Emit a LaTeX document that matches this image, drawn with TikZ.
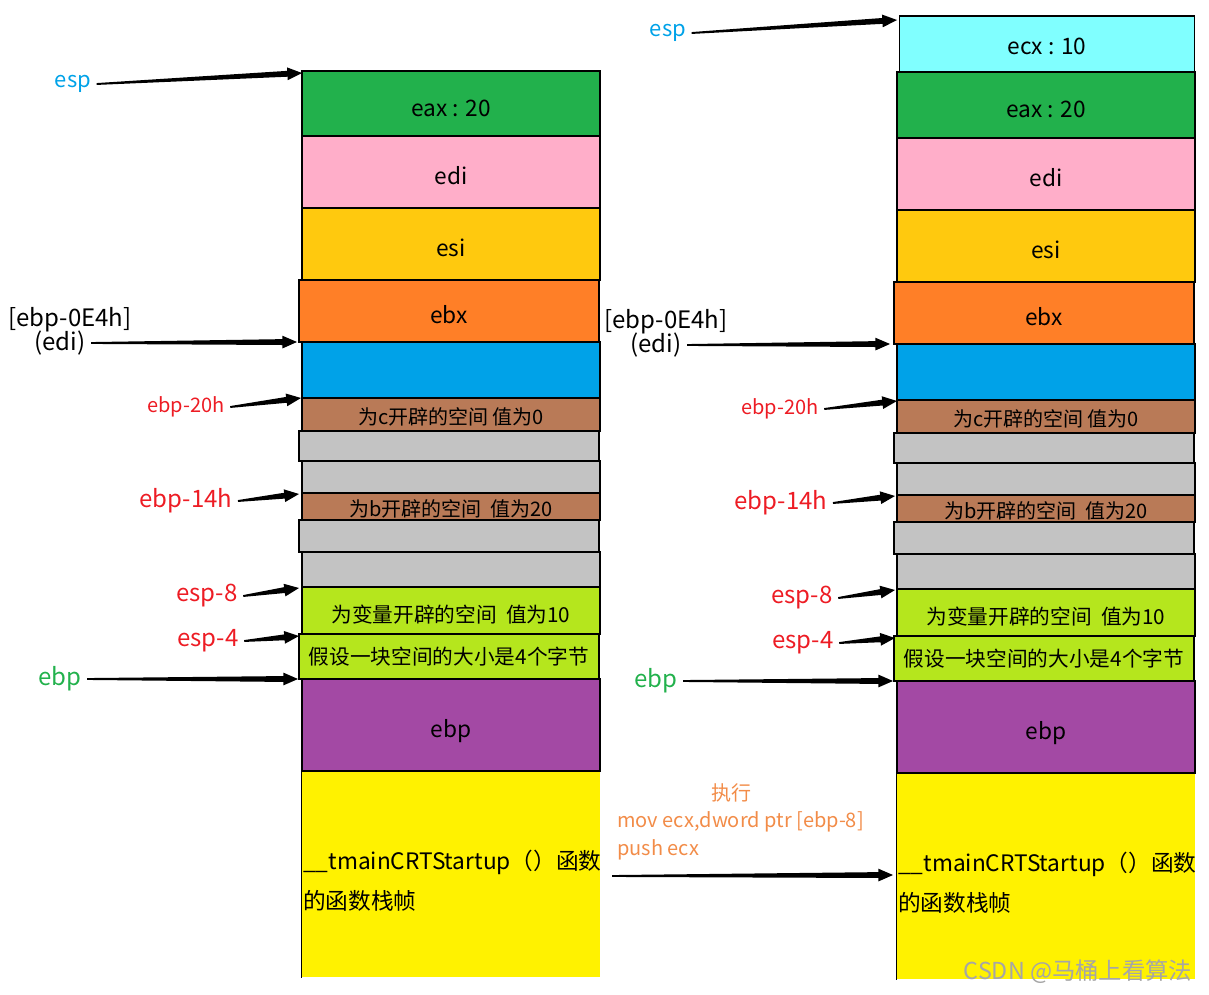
\documentclass[tikz,border=0pt]{standalone}
\usepackage{fontspec}
\setmainfont{Noto Sans CJK SC}
\usetikzlibrary{calc}
\definecolor{cGreen}{HTML}{22B14C}
\definecolor{cPink}{HTML}{FFAEC9}
\definecolor{cGold}{HTML}{FFC90E}
\definecolor{cOrange}{HTML}{FF7F27}
\definecolor{cBlue}{HTML}{00A2E8}
\definecolor{cBrown}{HTML}{B97A57}
\definecolor{cGray}{HTML}{C3C3C3}
\definecolor{cLime}{HTML}{B5E61D}
\definecolor{cPurple}{HTML}{A349A4}
\definecolor{cYellow}{HTML}{FFF200}
\definecolor{cCyan}{HTML}{80FFFF}
\definecolor{cRed}{HTML}{ED1C24}
\definecolor{cEsp}{HTML}{00A2E8}
\definecolor{cEbp}{HTML}{22B14C}
\definecolor{cNote}{HTML}{F28C48}
\tikzset{
  blk/.style={draw=black,line width=1.1pt,minimum width=223.5pt,inner sep=0pt,
    font=\fontsize{17}{20}\selectfont,text height=19pt,text depth=0pt},
  small/.style={font=\fontsize{15}{18}\selectfont,text height=15.5pt},
  mid/.style={font=\fontsize{15.5}{18}\selectfont,text height=18.5pt},
  lbl/.style={inner sep=4pt,font=\fontsize{18}{21}\selectfont},
  lblsm/.style={inner sep=4pt,font=\fontsize{15}{18}\selectfont},
  edge/.style={draw=black,line width=1.1pt},
  taper/.style={to path={
    ($(\tikztostart)!0.7pt!90:(\tikztotarget)$) --
    ($(\tikztotarget)!11pt!(\tikztostart)!2.2pt!-90:(\tikztostart)$) --
    ($(\tikztotarget)!11pt!(\tikztostart)!4.8pt!-90:(\tikztostart)$) --
    (\tikztotarget) --
    ($(\tikztotarget)!11pt!(\tikztostart)!4.8pt!90:(\tikztostart)$) --
    ($(\tikztotarget)!11pt!(\tikztostart)!2.2pt!90:(\tikztostart)$) --
    ($(\tikztostart)!0.7pt!-90:(\tikztotarget)$) -- cycle}},
  note/.style={text=cNote,inner sep=0pt,font=\fontsize{15}{18}\selectfont}
}
\newcommand\stk[6]{\node[blk,#5,minimum height={(#4-#3)*0.75pt}] (#1) at ({#2+149},{(#3+#4)/2}) {#6};}
\begin{document}
\begin{tikzpicture}[x=0.75pt,y=-0.75pt]
\useasboundingbox (0,0) rectangle (1209,995);
% ---------- left stack ----------
\stk{L15}{302}{771}{977}{fill=cYellow,draw=none}{}
\draw[edge] (L15.north west) -- (L15.south west);
\draw[edge] (L15.north west) -- (L15.north east);
\stk{L1}{302}{71}{136}{fill=cGreen}{eax : 20}
\stk{L2}{302}{136}{208}{fill=cPink}{edi}
\stk{L3}{302}{208}{280}{fill=cGold}{esi}
\stk{L4}{300}{280}{342}{fill=cOrange,minimum width=225pt}{ebx}
\stk{L5}{302}{342}{398}{fill=cBlue}{}
\stk{L6}{302}{398}{431}{fill=cBrown,small}{为c开辟的空间 值为0}
\stk{L7}{300}{431}{461}{fill=cGray,minimum width=225pt}{}
\stk{L8}{302}{461}{493}{fill=cGray}{}
\stk{L9}{302}{493}{520}{fill=cBrown,small}{为b开辟的空间~~值为20}
\stk{L10}{300}{520}{552}{fill=cGray,minimum width=225pt}{}
\stk{L11}{302}{552}{587}{fill=cGray}{}
\stk{L12}{302}{587}{634}{fill=cLime,mid}{为变量开辟的空间~~值为10}
\stk{L13}{300}{634}{679}{fill=cLime,mid,text height=11.5pt,minimum width=225pt}{假设一块空间的大小是4个字节}
\stk{L14}{302}{679}{771}{fill=cPurple}{ebp}
\node[anchor=west,align=left,inner sep=0pt,font=\fontsize{17}{30}\selectfont] (Ltm) at (303,881)
  {\_\_tmainCRTStartup（）函数\\的函数栈帧};
% left labels
\node[lbl,text=cEsp,font=\fontsize{16.5}{20}\selectfont] (lesp) at (73,84) {esp};
\node[lbl] (lebpa) at (70,320) {[ebp-0E4h]};
\node[lbl] (ledi) at (60,343) {(edi)};
\node[lblsm,text=cRed] (l20) at (186,407) {ebp-20h};
\node[lbl,text=cRed] (l14) at (186,501) {ebp-14h};
\node[lbl,text=cRed] (l8) at (207,596) {esp-8};
\node[lbl,text=cRed] (l4) at (208,641) {esp-4};
\node[lbl,text=cEbp] (lebp) at (60,679) {ebp};
\coordinate (hLesp) at (302,73);
\coordinate (hLedi) at (297,342);
\coordinate (hL20) at (301,398);
\coordinate (hL14) at (299,494);
\coordinate (hL8) at (299,588);
\coordinate (hL4) at (299,636);
\coordinate (hLebp) at (298,679);
\fill (lesp.east) to[taper] (hLesp);
\fill (ledi.east) to[taper] (hLedi);
\fill (l20.east) to[taper] (hL20);
\fill (l14.east) to[taper] (hL14);
\fill (l8.east) to[taper] (hL8);
\fill (l4.east) to[taper] (hL4);
\fill (lebp.east) to[taper] (hLebp);
% ---------- right stack ----------
\stk{R15}{897}{773}{979}{fill=cYellow,draw=none}{}
\draw[edge] (R15.north west) -- (R15.south west);
\draw[edge] (R15.north west) -- (R15.north east);
\stk{R0}{898}{16}{72}{fill=cCyan,text height=15.5pt,minimum width=221.25pt}{ecx : 10}
\stk{R1}{897}{72}{138}{fill=cGreen}{eax : 20}
\stk{R2}{897}{138}{210}{fill=cPink}{edi}
\stk{R3}{897}{210}{282}{fill=cGold}{esi}
\stk{R4}{895}{282}{344}{fill=cOrange,minimum width=225pt}{ebx}
\stk{R5}{897}{344}{400}{fill=cBlue}{}
\stk{R6}{897}{400}{433}{fill=cBrown,small}{为c开辟的空间 值为0}
\stk{R7}{895}{433}{463}{fill=cGray,minimum width=225pt}{}
\stk{R8}{897}{463}{495}{fill=cGray}{}
\stk{R9}{897}{495}{522}{fill=cBrown,small}{为b开辟的空间~~值为20}
\stk{R10}{895}{522}{554}{fill=cGray,minimum width=225pt}{}
\stk{R11}{897}{554}{589}{fill=cGray}{}
\stk{R12}{897}{589}{636}{fill=cLime,mid}{为变量开辟的空间~~值为10}
\stk{R13}{895}{636}{681}{fill=cLime,mid,text height=11.5pt,minimum width=225pt}{假设一块空间的大小是4个字节}
\stk{R14}{897}{681}{773}{fill=cPurple}{ebp}
\node[anchor=west,align=left,inner sep=0pt,font=\fontsize{17}{30}\selectfont] (Rtm) at (898,883)
  {\_\_tmainCRTStartup（）函数\\的函数栈帧};
% right labels
\node[lbl,text=cEsp,font=\fontsize{16.5}{20}\selectfont] (resp) at (668,33) {esp};
\node[lbl] (rebpa) at (666,322) {[ebp-0E4h]};
\node[lbl] (redi) at (656,345) {(edi)};
\node[lblsm,text=cRed] (r20) at (780,409) {ebp-20h};
\node[lbl,text=cRed] (r14) at (781,503) {ebp-14h};
\node[lbl,text=cRed] (r8) at (802,598) {esp-8};
\node[lbl,text=cRed] (r4) at (803,643) {esp-4};
\node[lbl,text=cEbp] (rebp) at (656,681) {ebp};
\coordinate (hResp) at (897,20);
\coordinate (hRedi) at (890,344);
\coordinate (hR20) at (897,401);
\coordinate (hR14) at (895,496);
\coordinate (hR8) at (895,590);
\coordinate (hR4) at (895,638);
\coordinate (hRebp) at (893,681);
\fill (resp.east) to[taper] (hResp);
\fill (redi.east) to[taper] (hRedi);
\fill (r20.east) to[taper] (hR20);
\fill (r14.east) to[taper] (hR14);
\fill (r8.east) to[taper] (hR8);
\fill (r4.east) to[taper] (hR4);
\fill (rebp.east) to[taper] (hRebp);
% ---------- middle ----------
\node[note] (nexec) at (731,793) {执行};
\node[note,anchor=west] (nmov) at (617,822) {mov ecx,dword ptr [ebp-8]};
\node[note,anchor=west] (npush) at (617,850) {push ecx};
\coordinate (mtail) at (612,876);
\coordinate (mhead) at (893,875);
\fill (mtail) to[taper] (mhead);
% watermark
\node[text=black!35,inner sep=0pt,font=\fontsize{17.5}{20}\selectfont] (wm) at (1078,972) {CSDN @马桶上看算法};
\end{tikzpicture}
\end{document}
